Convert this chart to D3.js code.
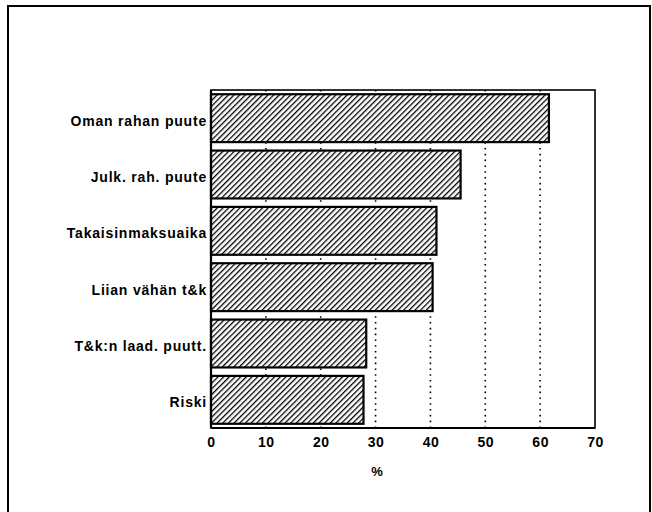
<!DOCTYPE html>
<html>
<head>
<meta charset="utf-8">
<script src="https://cdn.jsdelivr.net/npm/d3@7"></script>
<style>
  html, body { margin: 0; padding: 0; background: #fff; }
  svg { display: block; }
</style>
</head>
<body>
<svg id="chart" width="652" height="512"></svg>
<script>
const categories = ["Oman rahan puute", "Julk. rah. puute", "Takaisinmaksuaika", "Liian vähän t&k", "T&k:n laad. puutt.", "Riski"];
const values = [61.6, 45.5, 41.1, 40.4, 28.3, 27.8];
const xTicks = [0, 10, 20, 30, 40, 50, 60, 70];
const gridTicks = [10, 20, 30, 40, 50, 60];
const axisTitle = "%";

const svg = d3.select("#chart");
const font = "'Liberation Sans', Arial, Helvetica, sans-serif";

// outer frame (extends past the bottom)
svg.append("path")
  .attr("d", "M8,520 L8,6 L650,6 L650,520")
  .attr("fill", "none").attr("stroke", "#000").attr("stroke-width", 2);

const m = { left: 211, right: 595, top: 90, bottom: 428 };
const x = d3.scaleLinear().domain([0, 70]).range([m.left, m.right]);
const y = d3.scaleBand().domain(categories).range([m.top, m.bottom]).paddingInner(0.15).paddingOuter(0.075);

const defs = svg.append("defs");
const pat = defs.append("pattern")
  .attr("id", "hatch").attr("patternUnits", "userSpaceOnUse")
  .attr("width", 4).attr("height", 4)
  .attr("patternTransform", "rotate(45)");
pat.append("rect").attr("width", 4).attr("height", 4).attr("fill", "#fff");
pat.append("line").attr("x1", 0).attr("y1", 0).attr("x2", 0).attr("y2", 4)
  .attr("stroke", "#000").attr("stroke-width", 2.6);

// plot frame
svg.append("rect")
  .attr("x", m.left).attr("y", m.top)
  .attr("width", m.right - m.left).attr("height", m.bottom - m.top)
  .attr("fill", "#fff").attr("stroke", "#000").attr("stroke-width", 1.6);

// dotted gridlines
svg.append("g").selectAll("line").data(gridTicks).join("line")
  .attr("x1", d => x(d)).attr("x2", d => x(d))
  .attr("y1", m.top).attr("y2", m.bottom)
  .attr("stroke", "#000").attr("stroke-width", 1.6)
  .attr("stroke-dasharray", "1.6,4.2");

// bars
svg.append("g").selectAll("rect").data(values).join("rect")
  .attr("x", x(0))
  .attr("y", (d, i) => y(categories[i]))
  .attr("width", d => x(d) - x(0))
  .attr("height", y.bandwidth())
  .attr("fill", "url(#hatch)")
  .attr("stroke", "#000").attr("stroke-width", 2.2);

// redraw left/bottom axis lines
svg.append("line").attr("x1", m.left).attr("x2", m.left).attr("y1", m.top).attr("y2", m.bottom)
  .attr("stroke", "#000").attr("stroke-width", 2.2);
svg.append("line").attr("x1", m.left).attr("x2", m.right).attr("y1", m.bottom).attr("y2", m.bottom)
  .attr("stroke", "#000").attr("stroke-width", 2.2);

// y axis labels
const yAxis = d3.axisLeft(y).tickSize(0).tickPadding(4);
const gy = svg.append("g").attr("transform", `translate(${m.left},3)`).call(yAxis);
gy.select(".domain").remove();
gy.selectAll("text").attr("font-family", font).attr("font-size", 14).attr("font-weight", "bold")
  .attr("letter-spacing", "0.8px").attr("fill", "#000");

// x axis labels
const xAxis = d3.axisBottom(x).tickValues(xTicks).tickSize(0).tickPadding(9).tickFormat(d3.format("d"));
const gx = svg.append("g").attr("transform", `translate(0,${m.bottom})`).call(xAxis);
gx.select(".domain").remove();
gx.selectAll("text").attr("font-family", font).attr("font-size", 14).attr("font-weight", "bold")
  .attr("letter-spacing", "0.5px").attr("fill", "#000");

svg.append("text").attr("x", 377).attr("y", 476).attr("text-anchor", "middle")
  .attr("font-family", font).attr("font-size", 13).attr("font-weight", "bold").text(axisTitle);
</script>
</body>
</html>
